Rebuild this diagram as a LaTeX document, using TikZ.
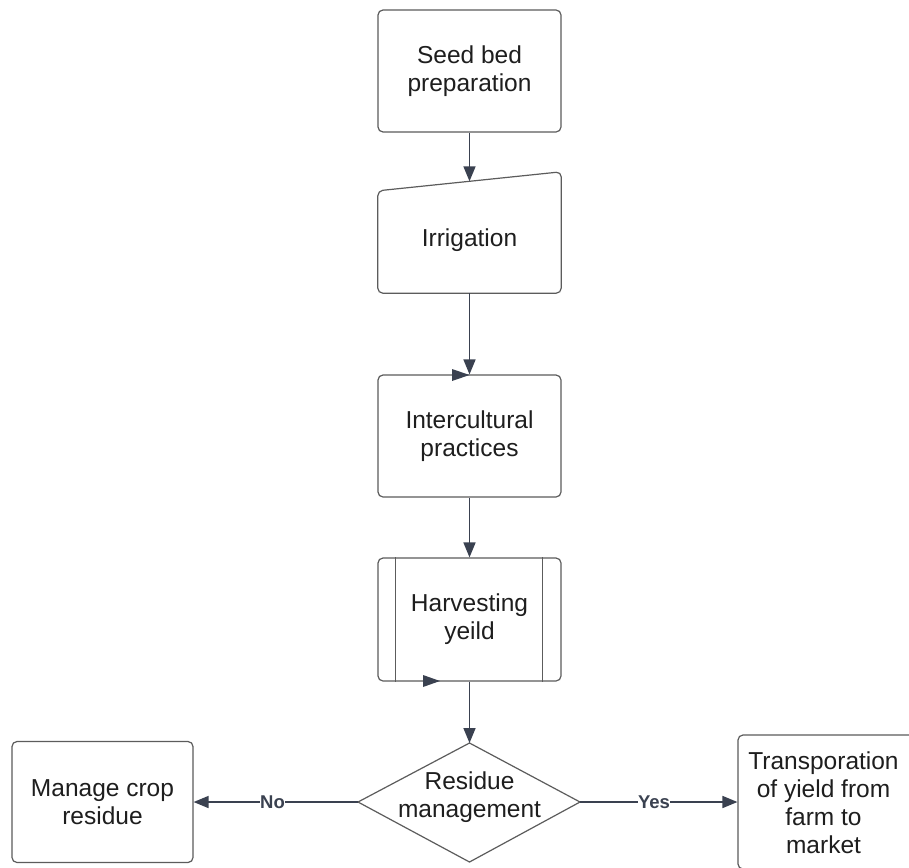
\documentclass[tikz,border=0pt]{standalone}
\usepackage{fontspec}
\setmainfont{Liberation Sans}
\usetikzlibrary{arrows.meta,calc}
\definecolor{boxline}{HTML}{5C5C5C}
\definecolor{arrowc}{HTML}{3A4150}
\definecolor{txt}{HTML}{1E1E1E}
\begin{document}
\begin{tikzpicture}[x=1pt,y=-1pt,
  boxshape/.style={draw=boxline, line width=1.2pt, rounded corners=5pt},
  box/.style={boxshape, fill=white, align=center, text=txt,
    font=\fontsize{24.5}{28}\selectfont, inner sep=0pt},
  plain/.style={align=center, text=txt, font=\fontsize{24.5}{28}\selectfont, inner sep=0pt},
  flow/.style={draw=arrowc, line width=1.6pt, -{Triangle[length=15pt,width=12pt]}},
  lbl/.style={fill=white, font=\bfseries\fontsize{18.5}{20}\selectfont, text=arrowc, inner sep=0.5pt}]
\useasboundingbox (0,0) rectangle (909,867);
\clip (0,0) rectangle (909,867);
\fill[white] (0,0) rectangle (909,867);

% Seed bed preparation
\node[box, minimum width=183pt, minimum height=122pt] (seed) at (469.5,71) {Seed bed\\preparation};

% Irrigation (manual input shape)
\node[minimum width=183pt, minimum height=121pt, inner sep=0pt] (irr) at (469.5,232.5) {};
\draw[boxshape] ([yshift=-19pt]irr.north west) -- (irr.north east) -- (irr.south east) -- (irr.south west) -- cycle;
\node[plain] (irrtext) at (469.5,240) {Irrigation};

% Intercultural practices
\node[box, minimum width=183pt, minimum height=122pt] (inter) at (469.5,436) {Intercultural\\practices};

% Harvesting yeild (predefined process)
\node[box, minimum width=183pt, minimum height=123pt] (harv) at (469.5,619.5) {Harvesting\\yeild};
\draw[draw=boxline, line width=1.2pt] ([xshift=18pt]harv.north west) -- ([xshift=18pt]harv.south west);
\draw[draw=boxline, line width=1.2pt] ([xshift=-19pt]harv.north east) -- ([xshift=-19pt]harv.south east);

% Decision diamond
\coordinate (dtop) at (469.5,743);
\coordinate (dright) at (580,802);
\coordinate (dbot) at (469.5,862);
\coordinate (dleft) at (358,802);
\draw[draw=boxline, line width=1.2pt, fill=white] (dtop) -- (dright) -- (dbot) -- (dleft) -- cycle;
\node[plain] (dec) at (469.5,797) {Residue\\management};

% Outcome boxes
\node[box, minimum width=181pt, minimum height=121pt] (crop) at (102.5,802) {Manage crop\\residue};
\node[box, minimum width=182pt, minimum height=134pt] (trans) at (829,802) {};
\node[plain] (transtext) at (823.5,803) {Transporation\\of yield from\\farm to\\market};

% Connectors
\draw[flow] (seed.south) -- ([yshift=-9.5pt]irr.north);
\draw[flow] (irr.south) -- (inter.north);
\draw[flow] (inter.south) -- (harv.north);
\draw[flow] (harv.south) -- (dtop);
\draw[flow] (dleft) -- (crop.east) node[lbl, pos=0.52] {No};
\draw[flow] (dright) -- (trans.west) node[lbl, pos=0.47] {Yes};

% Stray arrowheads shown in the reference
\fill[arrowc] (469.5,375) -- (452,369) -- (452,381) -- cycle;
\fill[arrowc] (440,681) -- (423,675) -- (423,687) -- cycle;
\end{tikzpicture}
\end{document}
